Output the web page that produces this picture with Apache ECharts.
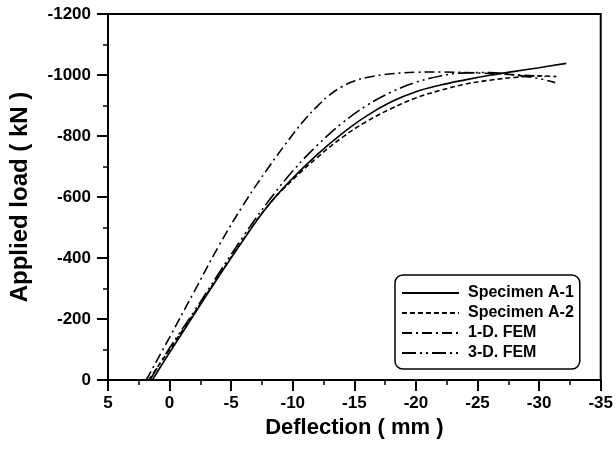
<!DOCTYPE html>
<html>
<head>
<meta charset="utf-8">
<script src="https://cdn.jsdelivr.net/npm/echarts@6/dist/echarts.min.js"></script>
<style>
html,body{margin:0;padding:0;background:#fff;}
#chart{width:616px;height:450px;}
</style>
</head>
<body>
<div id="chart"></div>
<script>
const seriesNames = ['Specimen A-1', 'Specimen A-2', '1-D. FEM', '3-D. FEM'];
const xTicks = [5, 0, -5, -10, -15, -20, -25, -30, -35];
const yTicks = [0, -200, -400, -600, -800, -1000, -1200];

const deflA1 = [1.4, 0, -2, -4, -6, -8, -10, -12, -14, -16, -18, -20, -22, -24, -26, -28, -30, -32.2];
const loadA1 = [0, -90, -215, -340, -460, -572, -662, -740, -808, -866, -912, -945, -967, -984, -999, -1012, -1024, -1038];

const deflA2 = [1.7, 0, -2, -4, -6, -8, -10, -12, -14, -16, -18, -20, -22, -24, -26, -28, -30, -31.4];
const loadA2 = [0, -100, -220, -342, -462, -572, -657, -730, -795, -848, -890, -925, -950, -970, -983, -992, -997, -995];

const defl1D = [1.9, 0, -2, -4, -6, -8, -10, -11, -12, -13, -14, -15, -16, -18, -20, -22, -24, -26, -28, -30.5];
const load1D = [0, -140, -290, -440, -575, -695, -805, -855, -898, -935, -962, -980, -992, -1004, -1009, -1010, -1008, -1005, -1001, -995];

const defl3D = [1.6, 0, -2, -4, -6, -8, -10, -12, -14, -16, -18, -20, -22, -24, -26, -28, -30, -31.3];
const load3D = [0, -105, -225, -350, -472, -585, -685, -770, -842, -900, -944, -976, -997, -1007, -1008, -1000, -988, -975];

const zip = (xs, ys) => xs.map((x, i) => [x, ys[i]]);
const dashTypes = ['solid', [5, 3], [10, 4, 2, 4], [14, 4, 2, 4, 2, 4]];
const dataSets = [zip(deflA1, loadA1), zip(deflA2, loadA2), zip(defl1D, load1D), zip(defl3D, load3D)];

const chart = echarts.init(document.getElementById('chart'));
const font = 'Liberation Sans, Arial, sans-serif';
chart.setOption({
  animation: false,
  backgroundColor: '#fff',
  grid: { left: 107, right: 15, top: 14, bottom: 70, show: true, borderColor: '#000', borderWidth: 2 },
  xAxis: {
    type: 'value', inverse: true, min: -35, max: 5, interval: 5,
    name: 'Deflection ( mm )', nameLocation: 'middle', nameGap: 29,
    nameTextStyle: { fontFamily: font, fontWeight: 'bold', fontSize: 22, color: '#000' },
    axisLine: { show: true, onZero: false, lineStyle: { color: '#000', width: 2 } },
    axisTick: { show: true, inside: false, length: 11, lineStyle: { color: '#000', width: 2 } },
    minorTick: { show: true, splitNumber: 2, length: 5, lineStyle: { color: '#000', width: 1.5 } },
    splitLine: { show: false },
    axisLabel: { margin: 15, fontFamily: font, fontWeight: 'bold', fontSize: 17, color: '#000',
      formatter: v => xTicks.includes(v) ? String(v) : '' }
  },
  yAxis: {
    type: 'value', inverse: true, min: -1200, max: 0, interval: 200,
    name: 'Applied load ( kN )', nameLocation: 'middle', nameGap: 76, nameRotate: 90,
    nameTextStyle: { fontFamily: font, fontWeight: 'bold', fontSize: 24, color: '#000' },
    axisLine: { show: true, onZero: false, lineStyle: { color: '#000', width: 2 } },
    axisTick: { show: true, inside: false, length: 11, lineStyle: { color: '#000', width: 2 } },
    minorTick: { show: true, splitNumber: 2, length: 5, lineStyle: { color: '#000', width: 1.5 } },
    splitLine: { show: false },
    axisLabel: { margin: 17, fontFamily: font, fontWeight: 'bold', fontSize: 17, color: '#000',
      formatter: v => yTicks.includes(v) ? String(v) : '' }
  },
  legend: {
    orient: 'vertical', left: 395, top: 275,
    data: seriesNames,
    itemWidth: 57, itemHeight: 14, itemGap: 4,
    padding: [10, 6, 8, 6],
    borderColor: '#000', borderWidth: 1.5, borderRadius: 8,
    itemStyle: { opacity: 0 },
    textStyle: { fontFamily: font, fontWeight: 'bold', fontSize: 16, lineHeight: 14, color: '#000', padding: [0, 0, 0, 4] }
  },
  series: seriesNames.map((n, i) => ({
    name: n, type: 'line', data: dataSets[i], smooth: 0.4, symbol: 'none',
    lineStyle: { color: '#000', width: 1.6, type: dashTypes[i] },
    itemStyle: { color: '#000' }
  }))
});
</script>
</body>
</html>
